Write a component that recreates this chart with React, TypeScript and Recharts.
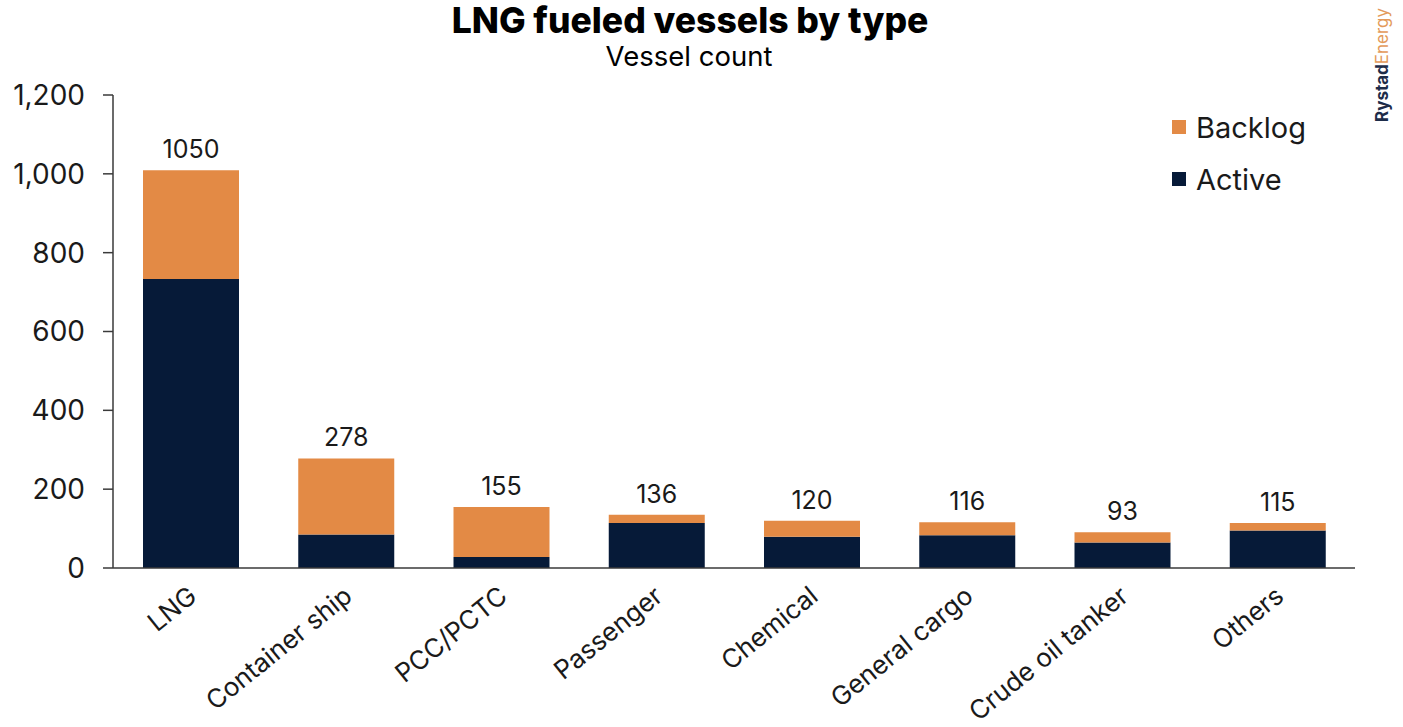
import { BarChart, Bar, XAxis, YAxis, Legend, LabelList } from "recharts";

const categories = [
  "LNG",
  "Container ship",
  "PCC/PCTC",
  "Passenger",
  "Chemical",
  "General cargo",
  "Crude oil tanker",
  "Others",
];
const activeCounts = [733, 85, 28, 114, 79, 83, 65, 95];
const backlogCounts = [276, 193, 127, 21, 41, 33, 26, 19];
const totalLabels = [1050, 278, 155, 136, 120, 116, 93, 115];
const yTicks = [0, 200, 400, 600, 800, 1000, 1200];

const NAVY = "#061a38";
const ORANGE = "#e38a45";
const TEXT = "#1a1a1a";

const data = categories.map((name, i) => ({
  name,
  active: activeCounts[i],
  backlog: backlogCounts[i],
  total: totalLabels[i],
}));

const XTick = ({ x, y, payload }: any) => (
  <g transform={`translate(${x + 8},${y + 31})`}>
    <text x={0} y={0} textAnchor="end" transform="rotate(-39)" fontSize={26} fill={TEXT}>
      {payload.value}
    </text>
  </g>
);

const legendOrder = ["backlog", "active"];

const LegendBox = ({ payload }: any) => {
  const items = legendOrder
    .map((k) => (payload || []).find((p: any) => p.dataKey === k))
    .filter(Boolean);
  return (
    <div>
      {items.map((p: any) => (
        <div key={p.dataKey} style={{ display: "flex", alignItems: "center", height: 52 }}>
          <span style={{ width: 14, height: 14, background: p.color, marginRight: 10 }} />
          <span style={{ fontSize: 29, color: TEXT }}>{p.value}</span>
        </div>
      ))}
    </div>
  );
};

const App = () => {
  return (
    <div
      style={{
        position: "absolute",
        left: 0,
        top: 0,
        width: 1403,
        height: 727,
        background: "#fff",
        fontFamily: "Inter, 'Liberation Sans', Arial, sans-serif",
      }}
    >
      <svg width={1403} height={727} style={{ position: "absolute", left: 0, top: 0 }}>
        <text x={690} y={33} textAnchor="middle" fontSize={35.5} fontWeight={800} fill="#000">
          LNG fueled vessels by type
        </text>
        <text x={689} y={66} textAnchor="middle" fontSize={27.5} fill="#000">
          Vessel count
        </text>
        <text transform="translate(1388,122) rotate(-90)" fontSize={17}>
          <tspan fontWeight={700} fill="#1d2c49">Rystad</tspan>
          <tspan fill="#e39a5a">Energy</tspan>
        </text>
      </svg>
      <div style={{ position: "absolute", left: 0, top: 0 }}>
        <BarChart
          width={1403}
          height={727}
          data={data}
          margin={{ top: 95, right: 48, bottom: 0, left: 0 }}
        >
          <XAxis
            dataKey="name"
            height={159}
            interval={0}
            tickLine={false}
            tickSize={0}
            tickMargin={0}
            axisLine={{ stroke: "#3a3a3a", strokeWidth: 1.5 }}
            tick={<XTick />}
          />
          <YAxis
            width={113}
            domain={[0, 1200]}
            ticks={yTicks}
            tickSize={10}
            tickMargin={18}
            tickLine={{ stroke: "#3a3a3a", strokeWidth: 1.5 }}
            axisLine={{ stroke: "#3a3a3a", strokeWidth: 1.5 }}
            tick={{ fontSize: 28, fill: TEXT }}
            tickFormatter={(v: number) => v.toLocaleString("en-US")}
          />
          <Legend
            layout="vertical"
            align="center"
            verticalAlign="middle"
            content={<LegendBox />}
            wrapperStyle={{ position: "absolute", left: 1172, top: 101, width: 200 }}
          />
          <Bar dataKey="active" name="Active" stackId="a" fill={NAVY} barSize={96} isAnimationActive={false} />
          <Bar dataKey="backlog" name="Backlog" stackId="a" fill={ORANGE} barSize={96} isAnimationActive={false}>
            <LabelList dataKey="total" position="top" offset={12} fontSize={25} fill={TEXT} />
          </Bar>
        </BarChart>
      </div>
    </div>
  );
};

export default App;
